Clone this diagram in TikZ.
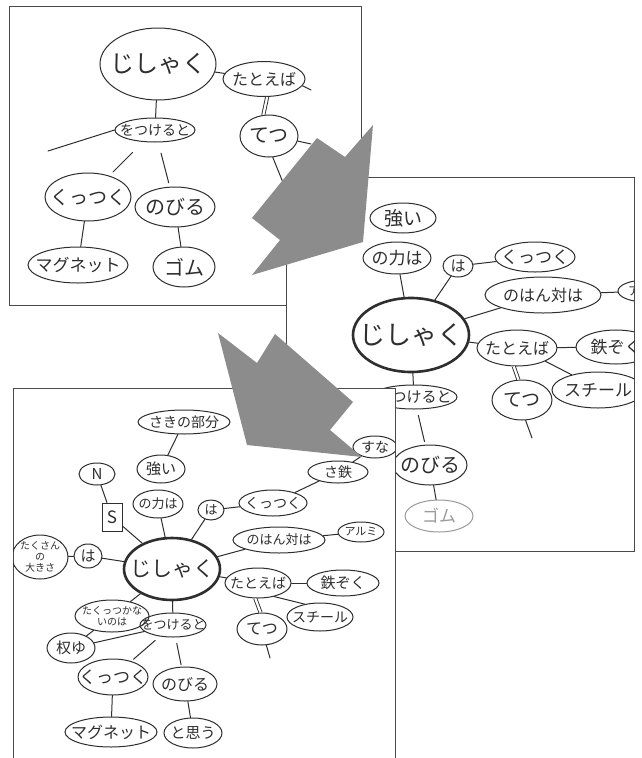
\documentclass[tikz,border=0pt]{standalone}
\usepackage{fontspec}
\setmainfont{Noto Sans CJK JP}
\usetikzlibrary{shapes.geometric}
\definecolor{inkc}{HTML}{2E2E2E}
\definecolor{framec}{HTML}{4A4A4A}
\definecolor{arrowc}{HTML}{8C8C8C}
\definecolor{fadec}{HTML}{9A9A9A}
\newcommand\fz[1]{\fontsize{#1}{#1}\selectfont}
\begin{document}
\begin{tikzpicture}[x=1pt,y=-1pt,
  ink/.style={draw=inkc, line width=1pt, line cap=round},
  bub/.style={ellipse, draw=inkc, line width=1pt, inner xsep=-20pt, inner ysep=-8pt, text=inkc},
  boldbub/.style={bub, line width=2.6pt},
  dbl/.style={draw=inkc, double=white, double distance=2.2pt, line width=0.9pt},
  frame/.style={draw=framec, line width=0.9pt, fill=white},
  bigarrow/.style={fill=arrowc, draw=none},
  sz/.style 2 args={minimum width=#1, minimum height=#2}]

\fill[white] (0,0) rectangle (641,758);
\useasboundingbox (0,0) rectangle (641,758);

% ---------- first map ----------
\draw[frame] (9,6) rectangle (361,305);
\node[bub, sz={116pt}{72pt}, font=\fz{24}] (p1j) at (158,64) {じしゃく};
\node[bub, sz={82pt}{35pt}, font=\fz{16}] (p1ex) at (264,79) {たとえば};
\node[bub, sz={58pt}{42pt}, font=\fz{20}] (p1tetsu) at (269,136) {てつ};
\node[bub, sz={80pt}{24pt}, font=\fz{14}] (p1tsuke) at (155,130) {をつけると};
\node[bub, sz={86pt}{48pt}, font=\fz{19}] (p1kuttsuku) at (88,197) {くっつく};
\node[bub, sz={80pt}{40pt}, font=\fz{20}] (p1nobiru) at (175,207) {のびる};
\node[bub, sz={100pt}{36pt}, font=\fz{17}] (p1magnet) at (78,265) {マグネット};
\node[bub, sz={62pt}{40pt}, font=\fz{20}] (p1gomu) at (184,267) {ゴム};
\coordinate (p1left) at (48,151);
\coordinate (p1exend) at (311,90);
\coordinate (p1tend) at (284,185);
\coordinate (p1tside) at (311,144);

\draw[ink] (p1j) -- (p1ex);
\draw[dbl] (p1ex.-80) -- (p1tetsu.105);
\draw[ink] (p1ex.-10) -- (p1exend);
\draw[ink] (p1tetsu.-80) -- (p1tend);
\draw[ink] (p1tetsu.-10) -- (p1tside);
\draw[ink] (p1j) -- (p1tsuke);
\draw[ink] (p1tsuke.west) -- (p1left);
\draw[ink, shorten <=15pt, shorten >=5pt] (p1tsuke) -- (p1kuttsuku);
\draw[ink, shorten <=11pt, shorten >=4pt] (p1tsuke) -- (p1nobiru);
\draw[ink] (p1kuttsuku) -- (p1magnet);
\draw[ink] (p1nobiru) -- (p1gomu);

% ---------- second map ----------
\draw[frame] (286,177) rectangle (634,551);
\begin{scope}
\clip (286,177) rectangle (634,551);
\node[bub, sz={66pt}{30pt}, font=\fz{19}] (p2tsuyoi) at (403,218) {強い};
\node[bub, sz={68pt}{32pt}, font=\fz{17}] (p2chikara) at (397,258) {の力は};
\node[bub, sz={30pt}{22pt}, font=\fz{15}] (p2ha) at (458,266) {は};
\node[bub, sz={80pt}{30pt}, font=\fz{17}] (p2kuttsuku) at (535,257) {くっつく};
\node[bub, sz={116pt}{36pt}, font=\fz{16}] (p2hantai) at (543,295) {のはん対は};
\node[bub, sz={56pt}{22pt}, font=\fz{12}] (p2alumi) at (646,291) {アルミ};
\node[boldbub, sz={116pt}{74pt}, font=\fz{26}] (p2j) at (411,335) {じしゃく};
\node[bub, sz={80pt}{36pt}, font=\fz{16}] (p2ex) at (517,348) {たとえば};
\node[bub, sz={80pt}{34pt}, font=\fz{17}] (p2zoku) at (616,347) {鉄ぞく};
\node[bub, sz={92pt}{36pt}, font=\fz{17}] (p2steel) at (598,390) {スチール};
\node[bub, sz={60pt}{40pt}, font=\fz{19}] (p2tetsu) at (522,400) {てつ};
\node[bub, sz={86pt}{24pt}, font=\fz{15}] (p2tsuke) at (414,397) {をつけると};
\node[bub, sz={74pt}{40pt}, font=\fz{20}] (p2nobiru) at (430,465) {のびる};
\node[bub, draw=fadec, text=fadec, sz={68pt}{32pt}, font=\fz{17}] (p2gomu) at (439,516) {ゴム};
\coordinate (p2tend) at (532,438);

\draw[ink] (p2chikara) -- (p2j);
\draw[ink] (p2ha) -- (p2j);
\draw[ink] (p2ha) -- (p2kuttsuku);
\draw[ink] (p2j) -- (p2hantai);
\draw[ink] (p2hantai) -- (p2alumi);
\draw[ink] (p2j) -- (p2ex);
\draw[ink] (p2ex) -- (p2zoku);
\draw[ink] (p2ex.-25) -- (p2steel.150);
\draw[dbl] (p2ex.-100) -- (p2tetsu.100);
\draw[ink] (p2tetsu.-80) -- (p2tend);
\draw[ink] (p2j) -- (p2tsuke);
\draw[ink, shorten <=6pt, shorten >=3pt] (p2tsuke) -- (p2nobiru);
\draw[ink] (p2nobiru) -- (p2gomu);
\end{scope}

% ---------- third map ----------
\fill[white] (13,388) rectangle (395,758);
\draw[framec, line width=0.9pt] (13,758) -- (13,388) -- (395,388) -- (395,758);
\begin{scope}
\clip (13,388) rectangle (395,758);
\node[bub, sz={92pt}{24pt}, font=\fz{14}] (p3saki) at (184,422) {さきの部分};
\node[bub, sz={48pt}{28pt}, font=\fz{15}] (p3tsuyoi) at (161,469) {強い};
\node[bub, sz={50pt}{28pt}, font=\fz{13}] (p3chikara) at (158,504) {の力は};
\node[bub, sz={26pt}{20pt}, font=\fz{13}] (p3ha) at (211,510) {は};
\node[bub, sz={68pt}{26pt}, font=\fz{14}] (p3kuttsuku) at (273,503) {くっつく};
\node[bub, sz={60pt}{22pt}, font=\fz{14}] (p3satetsu) at (338,472) {さ鉄};
\node[bub, sz={44pt}{22pt}, font=\fz{14}] (p3suna) at (375,447) {すな};
\node[bub, sz={36pt}{22pt}, font=\fz{15}] (p3n) at (97,474) {N};
\node[draw=inkc, line width=1pt, rectangle, inner sep=0pt, text=inkc,
      minimum width=20pt, minimum height=28pt, font=\fz{17}] (p3s) at (112,517) {S};
\node[bub, sz={56pt}{44pt}, align=center, font=\fontsize{10}{11}\selectfont] (p3takusan) at (40,557) {たくさん\\の\\大きさ};
\node[bub, sz={28pt}{24pt}, font=\fz{15}] (p3ha2) at (88,556) {は};
\node[boldbub, sz={96pt}{62pt}, font=\fz{21}] (p3j) at (172,569) {じしゃく};
\node[bub, sz={92pt}{26pt}, font=\fz{13}] (p3hantai) at (279,540) {のはん対は};
\node[bub, sz={46pt}{20pt}, font=\fz{11}] (p3alumi) at (361,532) {アルミ};
\node[bub, sz={66pt}{30pt}, font=\fz{14}] (p3ex) at (258,583) {たとえば};
\node[bub, sz={72pt}{26pt}, font=\fz{15}] (p3zoku) at (343,583) {鉄ぞく};
\node[bub, sz={66pt}{28pt}, font=\fz{14}] (p3steel) at (320,617) {スチール};
\node[bub, sz={50pt}{32pt}, font=\fz{16}] (p3tetsu) at (262,629) {てつ};
\node[bub, sz={74pt}{32pt}, align=center, font=\fontsize{10}{11.5}\selectfont] (p3kuttsukanai) at (112,616) {たくっつかな\\いのは};
\node[bub, sz={66pt}{24pt}, font=\fz{13}] (p3tsuke) at (173,625) {をつけると};
\node[bub, sz={48pt}{30pt}, font=\fz{15}] (p3ken) at (71,648) {权ゆ};
\node[bub, sz={70pt}{36pt}, font=\fz{17}] (p3kuttsuku2) at (113,677) {くっつく};
\node[bub, sz={64pt}{34pt}, font=\fz{16}] (p3nobiru) at (185,684) {のびる};
\node[bub, sz={92pt}{30pt}, font=\fz{16}] (p3magnet) at (111,732) {マグネット};
\node[bub, sz={58pt}{30pt}, font=\fz{15}] (p3omou) at (193,733) {と思う};
\coordinate (p3tend) at (270,658);

\draw[ink] (p3saki) -- (p3tsuyoi);
\draw[ink] (p3chikara) -- (p3j);
\draw[ink] (p3ha) -- (p3j);
\draw[ink] (p3ha) -- (p3kuttsuku);
\draw[ink] (p3kuttsuku) -- (p3satetsu);
\draw[ink] (p3satetsu) -- (p3suna);
\draw[ink] (p3n) -- (p3s);
\draw[ink] (p3s) -- (p3j);
\draw[ink] (p3takusan) -- (p3ha2);
\draw[ink] (p3ha2) -- (p3j);
\draw[ink] (p3j) -- (p3hantai);
\draw[ink] (p3hantai) -- (p3alumi);
\draw[ink] (p3j) -- (p3ex);
\draw[ink] (p3ex) -- (p3zoku);
\draw[ink] (p3ex.-40) -- (p3steel.140);
\draw[dbl] (p3ex.-100) -- (p3tetsu.95);
\draw[ink] (p3tetsu.-75) -- (p3tend);
\draw[ink] (p3j) -- (p3tsuke);
\draw[ink] (p3j) -- (p3kuttsukanai);
\draw[ink] (p3kuttsukanai) -- (p3ken);
\draw[ink] (p3ken) -- (p3tsuke);
\draw[ink, shorten <=6pt, shorten >=3pt] (p3tsuke) -- (p3kuttsuku2);
\draw[ink, shorten <=6pt, shorten >=2pt] (p3tsuke) -- (p3nobiru);
\draw[ink] (p3kuttsuku2) -- (p3magnet);
\draw[ink] (p3nobiru) -- (p3omou);
\end{scope}

% ---------- notched arrows between the maps ----------
\fill[bigarrow] (373,125) -- (363,242) -- (252,275) -- (280,240) -- (252,218)
  -- (317,138) -- (345,157) -- cycle;
\fill[bigarrow] (218,333) -- (257,363) -- (275,334) -- (353,402) -- (330,430)
  -- (362,457) -- (247,445) -- cycle;
\end{tikzpicture}
\end{document}
